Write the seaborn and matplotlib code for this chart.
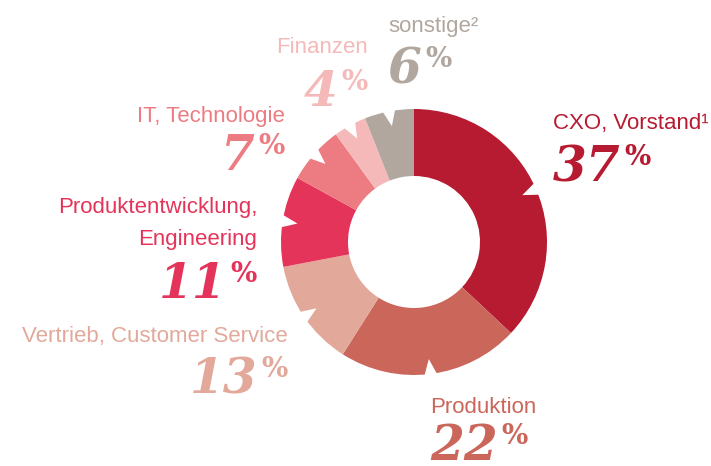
import numpy as np
import matplotlib
matplotlib.use("Agg")
import matplotlib.pyplot as plt
import seaborn as sns

# -------------------------------
# data (clockwise from 12 o'clock)
categories = ["CXO, Vorstand¹", "Produktion", "Vertrieb, Customer Service",
              "Produktentwicklung,\nEngineering", "IT, Technologie", "Finanzen", "sonstige²"]
shares = [37, 22, 13, 11, 7, 4, 6]
colors = ["#B71B31", "#CB665B", "#E2A99B", "#E5345A", "#EC7C82", "#F5B9B9", "#B1A79E"]

# label layout in pixels (y from top): align, x, label baseline, number baseline
layout = [
    ("left", 553, 129, 181),
    ("left", 430, 413, 460),
    ("right", 288, 342, 393),
    ("right", 257, 213, 298),
    ("right", 285, 122, 170),
    ("right", 368, 53, 106),
    ("left", 388, 32, 83),
]

W, H = 711, 466
cx, cy, R, r_in = 414, 242, 133, 66

sns.set_theme(style="white")
plt.rcParams["font.family"] = ["Liberation Sans", "DejaVu Sans"]

fig = plt.figure(figsize=(W / 100, H / 100), dpi=100)
ax = fig.add_axes([0, 0, 1, 1])

pal = sns.color_palette(colors)
ax.pie(shares, colors=pal, startangle=90, counterclock=False,
       center=(cx, H - cy), radius=R,
       wedgeprops=dict(width=R - r_in, linewidth=0))

# little white notches at the outer edge of every slice
cum = np.cumsum([0] + shares[:-1])
for start, val in zip(cum, shares):
    mid = np.deg2rad(90 - (start + val / 2) * 3.6)
    da = 7 / R
    pts = [(cx + (R + 3) * np.cos(mid - da), H - cy + (R + 3) * np.sin(mid - da)),
           (cx + (R + 3) * np.cos(mid + da), H - cy + (R + 3) * np.sin(mid + da)),
           (cx + (R - 15) * np.cos(mid), H - cy + (R - 15) * np.sin(mid))]
    ax.add_patch(plt.Polygon(pts, closed=True, fc="white", ec="none", zorder=5))

ax.set_xlim(0, W)
ax.set_ylim(0, H)
ax.set_aspect("equal")
ax.axis("off")

renderer = fig.canvas.get_renderer()
num_font = dict(family=["DejaVu Serif"], weight="bold", style="italic", size=35)
pct_font = dict(family=["DejaVu Serif"], weight="bold", size=20)

for name, val, col, (align, x, ly, ny) in zip(categories, shares, colors, layout):
    for i, line in enumerate(name.split("\n")):
        ax.text(x, H - (ly + 32 * i), line, color=col, fontsize=16,
                ha=align, va="baseline")
    if align == "right":
        p = ax.text(x, H - ny + 16, "%", color=col, ha="right", va="baseline", **pct_font)
        pw = p.get_window_extent(renderer).width
        ax.text(x - pw - 4, H - ny, str(val), color=col, ha="right", va="baseline", **num_font)
    else:
        n = ax.text(x, H - ny, str(val), color=col, ha="left", va="baseline", **num_font)
        nw = n.get_window_extent(renderer).width
        ax.text(x + nw + 4, H - ny + 16, "%", color=col, ha="left", va="baseline", **pct_font)

fig.savefig("out.png", dpi=100)
